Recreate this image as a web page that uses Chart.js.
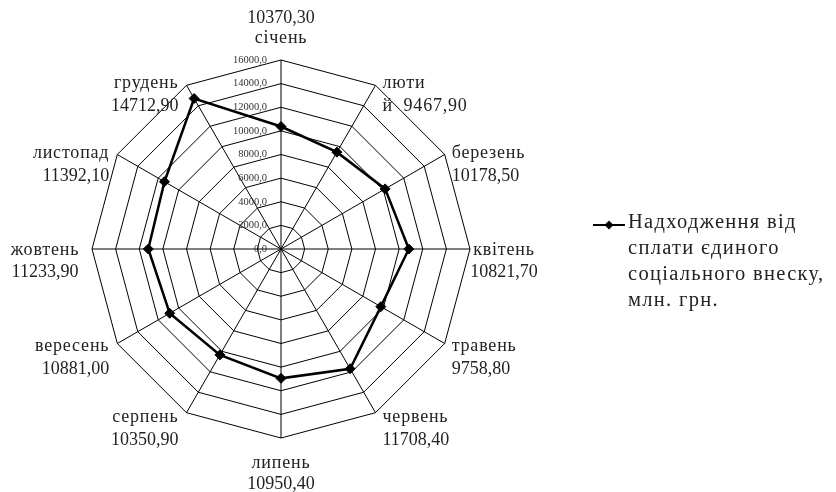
<!DOCTYPE html>
<html>
<head>
<meta charset="utf-8">
<script src="https://cdn.jsdelivr.net/npm/chart.js@4"></script>
<style>
  html, body { margin: 0; padding: 0; background: #fff; }
  #wrap { width: 836px; height: 492px; position: relative; }
</style>
</head>
<body>
<div id="wrap"><canvas id="c"></canvas></div>
<script>
const categories = ['січень', 'лютий', 'березень', 'квітень', 'травень', 'червень',
                    'липень', 'серпень', 'вересень', 'жовтень', 'листопад', 'грудень'];
const values = [10370.30, 9467.90, 10178.50, 10821.70, 9758.80, 11708.40,
                10950.40, 10350.90, 10881.00, 11233.90, 11392.10, 14712.90];
const seriesName = 'Надходження від сплати єдиного соціального внеску, млн. грн.';
const legendLines = ['Надходження від', 'сплати єдиного', 'соціального внеску,', 'млн. грн.'];
const scaleMin = 0, scaleMax = 16000, scaleStep = 2000;

const fmt2 = v => v.toFixed(2).replace('.', ',');
const fmt1 = v => v.toFixed(1).replace('.', ',');

// label lines per category (as in the reference: value above name for the top one, "лютий" wrapped)
const pointLabelLines = categories.map((c, i) => {
  if (i === 0) return [fmt2(values[i]), c];
  if (c === 'лютий') return ['люти', 'й  ' + fmt2(values[i])];
  return [c, fmt2(values[i])];
});

const FONT = '"Liberation Serif", "DejaVu Serif", serif';
const TEXT = '#222';

const labelsPlugin = {
  id: 'customLabels',
  afterDraw(chart) {
    const ctx = chart.ctx;
    const s = chart.scales.r;
    ctx.save();
    // tick labels
    ctx.font = '10.5px ' + FONT;
    ctx.fillStyle = '#333';
    ctx.textAlign = 'right';
    ctx.textBaseline = 'middle';
    s.ticks.forEach(t => {
      const d = s.getDistanceFromCenterForValue(t.value);
      ctx.fillText(fmt1(t.value), s.xCenter - 14, s.yCenter - d);
    });
    // point labels
    ctx.font = '18px ' + FONT;
    ctx.fillStyle = TEXT;
    const lh = 23;
    const put = (ln, x, y) => {
      ctx.letterSpacing = /^[\d,\s]+$/.test(ln) ? '0px' : '0.8px';
      ctx.fillText(ln, x, y);
    };
    pointLabelLines.forEach((lines, i) => {
      const v = s.getPointPosition(i, s.drawingArea);
      const dx = v.x - s.xCenter, dy = v.y - s.yCenter;
      const R = s.drawingArea;
      const sn = dx / R, cs = -dy / R;
      ctx.textBaseline = 'middle';
      if (Math.abs(sn) < 0.01) {
        ctx.textAlign = 'center';
        if (cs > 0) {
          const yLast = v.y - 22;
          lines.forEach((ln, k) => put(ln, v.x, yLast - (lines.length - 1 - k) * 20));
        } else {
          lines.forEach((ln, k) => put(ln, v.x, v.y + 25 + k * 21));
        }
      } else if (Math.abs(cs) < 0.01) {
        ctx.textAlign = 'center';
        const cx = sn > 0 ? v.x + 34 : v.x - 47;
        lines.forEach((ln, k) => put(ln, cx, v.y + 1 + k * 22));
      } else {
        const y0 = v.y - 4 * cs + 1;
        if (sn > 0) {
          ctx.textAlign = 'left';
          lines.forEach((ln, k) => put(ln, v.x + 7, y0 + k * lh));
        } else {
          ctx.textAlign = 'right';
          lines.forEach((ln, k) => put(ln, v.x - 8, y0 + k * lh));
        }
      }
    });
    ctx.letterSpacing = '0px';
    // legend
    const lx = 593, ly = 225;
    ctx.strokeStyle = '#000';
    ctx.lineWidth = 2;
    ctx.beginPath();
    ctx.moveTo(lx, ly);
    ctx.lineTo(lx + 32, ly);
    ctx.stroke();
    ctx.fillStyle = '#000';
    ctx.beginPath();
    ctx.moveTo(lx + 16, ly - 4.5);
    ctx.lineTo(lx + 20.5, ly);
    ctx.lineTo(lx + 16, ly + 4.5);
    ctx.lineTo(lx + 11.5, ly);
    ctx.closePath();
    ctx.fill();
    ctx.font = '20.5px ' + FONT;
    ctx.letterSpacing = '1.3px';
    ctx.fillStyle = TEXT;
    ctx.textAlign = 'left';
    ctx.textBaseline = 'middle';
    legendLines.forEach((ln, k) => ctx.fillText(ln, 628, 223 + k * 26));
    ctx.restore();
  }
};

new Chart(document.getElementById('c'), {
  type: 'radar',
  data: {
    labels: categories,
    datasets: [{
      label: seriesName,
      data: values,
      borderColor: '#000',
      backgroundColor: '#000',
      borderWidth: 2.5,
      fill: false,
      tension: 0,
      pointStyle: 'rectRot',
      pointRadius: 5,
      pointBackgroundColor: '#000',
      pointBorderColor: '#000',
      pointBorderWidth: 1
    }]
  },
  options: {
    responsive: true,
    maintainAspectRatio: false,
    animation: false,
    layout: { padding: { left: 92, right: 366, top: 60, bottom: 54 } },
    plugins: {
      legend: { display: false },
      tooltip: { enabled: false }
    },
    scales: {
      r: {
        min: scaleMin,
        max: scaleMax,
        ticks: { stepSize: scaleStep, display: false },
        grid: { color: '#000', lineWidth: 1 },
        angleLines: { color: '#000', lineWidth: 1 },
        pointLabels: { display: false }
      }
    }
  },
  plugins: [labelsPlugin]
});
</script>
</body>
</html>
